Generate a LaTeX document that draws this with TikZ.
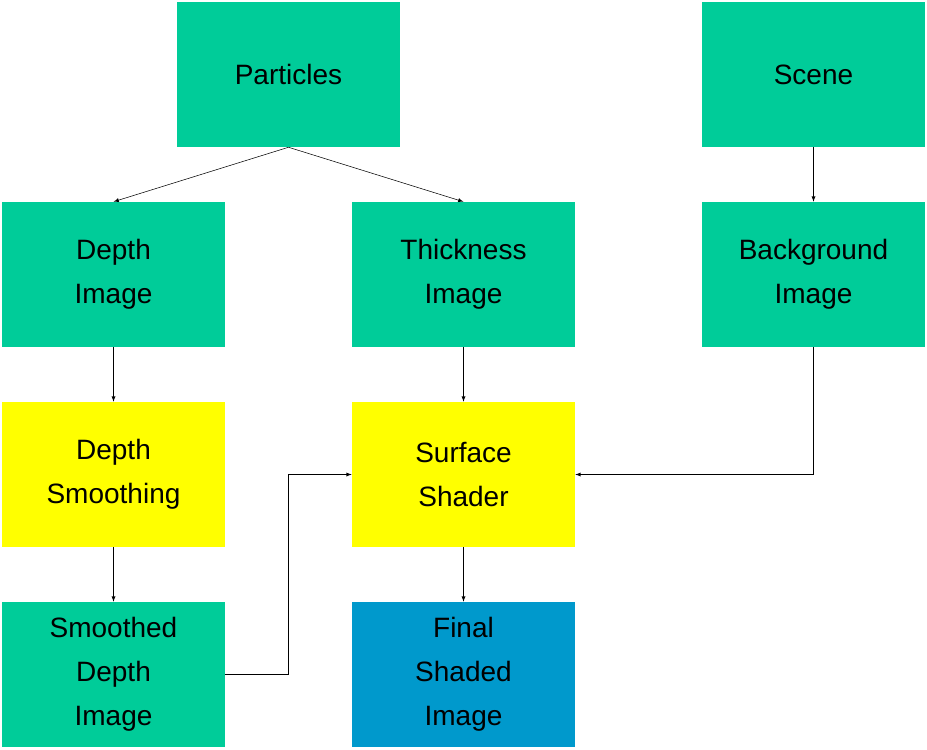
\documentclass[tikz,border=0pt]{standalone}
\usepackage{fontspec}
\setmainfont{Liberation Sans}
\usetikzlibrary{positioning}
\definecolor{stagegreen}{HTML}{00CC99}
\definecolor{stageyellow}{HTML}{FFFF00}
\definecolor{stageblue}{HTML}{0099CC}
\begin{document}
\begin{tikzpicture}[x=0.75pt,y=-0.75pt,
    box/.style = {minimum width=167.25pt,minimum height=108.75pt,inner sep=0pt,
                  align=center,font=\fontsize{21}{33}\selectfont},
    arrow/.style = {-latex,thin}]
    \useasboundingbox (0,0) rectangle (927,749);
    % sources
    \node[box,fill=stagegreen] (particles) at (288.5,74.5) {Particles};
    \node[box,fill=stagegreen] (scene) at (813.5,74.5) {Scene};
    % images
    \node[box,fill=stagegreen] (depth) at (113.5,274.5) {Depth\\Image};
    \node[box,fill=stagegreen] (thick) at (463.5,274.5) {Thickness\\Image};
    \node[box,fill=stagegreen] (backg) at (813.5,274.5) {Background\\Image};
    % passes
    \node[box,fill=stageyellow] (smooth) at (113.5,474.5) {Depth\\Smoothing};
    \node[box,fill=stageyellow] (shader) at (463.5,474.5) {Surface\\Shader};
    % results
    \node[box,fill=stagegreen] (smoothed) at (113.5,674.5) {Smoothed\\Depth\\Image};
    \node[box,fill=stageblue] (final) at (463.5,674.5) {Final\\Shaded\\Image};

    \draw[arrow] (particles.south) -- (depth.north);
    \draw[arrow] (particles.south) -- (thick.north);
    \draw[arrow] (scene) -- (backg);
    \draw[arrow] (depth) -- (smooth);
    \draw[arrow] (smooth) -- (smoothed);
    \draw[arrow] (thick) -- (shader);
    \draw[arrow] (shader) -- (final);
    \draw[arrow] (smoothed.east) -- (288,674.5) |- (shader.west);
    \draw[arrow] (backg.south) |- (shader.east);
\end{tikzpicture}
\end{document}
